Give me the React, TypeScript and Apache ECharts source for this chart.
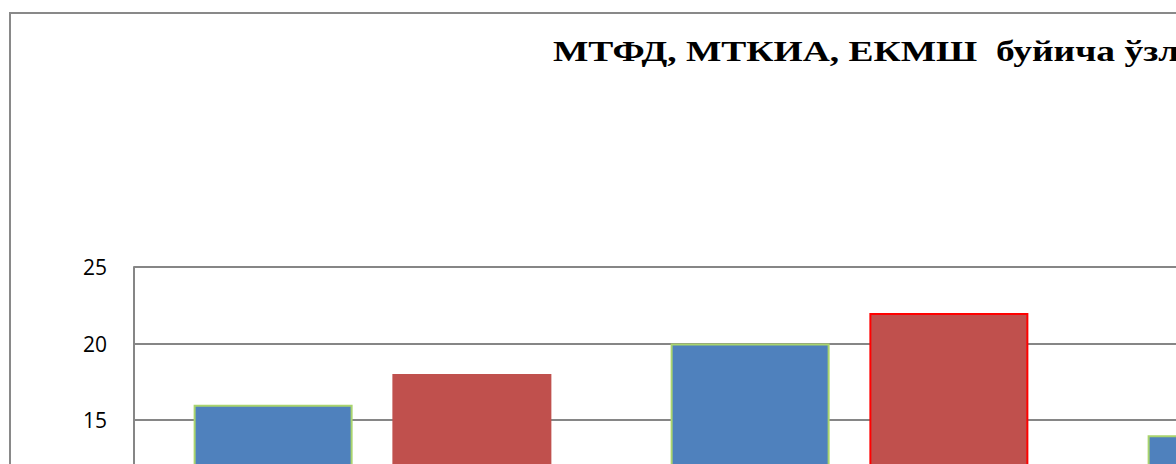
import React, { useEffect, useRef } from "react";
import * as echarts from "echarts";

const categories = ["МТФД", "МТКИА", "ЕКМШ"];
const series1Values = [16, 20, 14];
const series2Values = [18, 22, 16];
const yTicks = { min: 0, max: 25, interval: 5 };
const titleText = "МТФД, МТКИА, ЕКМШ  буйича ўзлаштириш кўрсаткичлари";

export default function App() {
  const ref = useRef<HTMLDivElement>(null);
  useEffect(() => {
    if (!ref.current) return;
    const chart = echarts.init(ref.current, undefined, { renderer: "svg" });
    chart.setOption({
      animation: false,
      backgroundColor: "#ffffff",
      graphic: [
        {
          type: "rect",
          shape: { x: 10, y: 13, width: 2000, height: 2000 },
          style: { fill: "none", stroke: "#898989", lineWidth: 2 },
          z: 100,
        },
        {
          type: "text",
          x: 553,
          y: 36,
          scaleX: 1.25,
          scaleY: 1,
          style: {
            text: titleText,
            fontFamily: "Liberation Serif",
            fontWeight: "bold",
            fontSize: 30,
            fill: "#000000",
            textVerticalAlign: "top",
            textAlign: "left",
          },
          z: 100,
        },
      ],
      grid: { left: 134, top: 267, width: 1431, height: 382.5 },
      xAxis: {
        type: "category",
        data: categories,
        axisLine: { show: true, lineStyle: { color: "#868686", width: 2 } },
        axisTick: { show: false },
        axisLabel: { fontSize: 20, color: "#000", fontFamily: "Open Sans" },
      },
      yAxis: {
        type: "value",
        min: yTicks.min,
        max: yTicks.max,
        interval: yTicks.interval,
        axisLine: { show: true, lineStyle: { color: "#868686", width: 2 } },
        axisTick: { show: false },
        splitLine: { lineStyle: { color: "#868686", width: 2 } },
        axisLabel: {
          fontSize: 21,
          color: "#000",
          fontFamily: "Open Sans",
          margin: 27,
        },
      },
      series: [
        {
          type: "bar",
          name: "1",
          data: series1Values,
          barWidth: 159,
          barGap: "25%",
          itemStyle: {
            color: "#4F81BD",
            borderColor: "#A9D46E",
            borderWidth: 2,
          },
        },
        {
          type: "bar",
          name: "2",
          data: series2Values.map((v, i) =>
            i === 1
              ? { value: v, itemStyle: { borderColor: "#FF0000", borderWidth: 2 } }
              : v
          ),
          barWidth: 159,
          barGap: "25%",
          itemStyle: { color: "#C0504D" },
        },
      ],
    });
    return () => chart.dispose();
  }, []);
  return (
    <div
      style={{
        position: "fixed",
        left: 0,
        top: 0,
        width: 1176,
        height: 464,
        overflow: "hidden",
        background: "#fff",
      }}
    >
      <div ref={ref} style={{ width: 1800, height: 720 }} />
    </div>
  );
}
